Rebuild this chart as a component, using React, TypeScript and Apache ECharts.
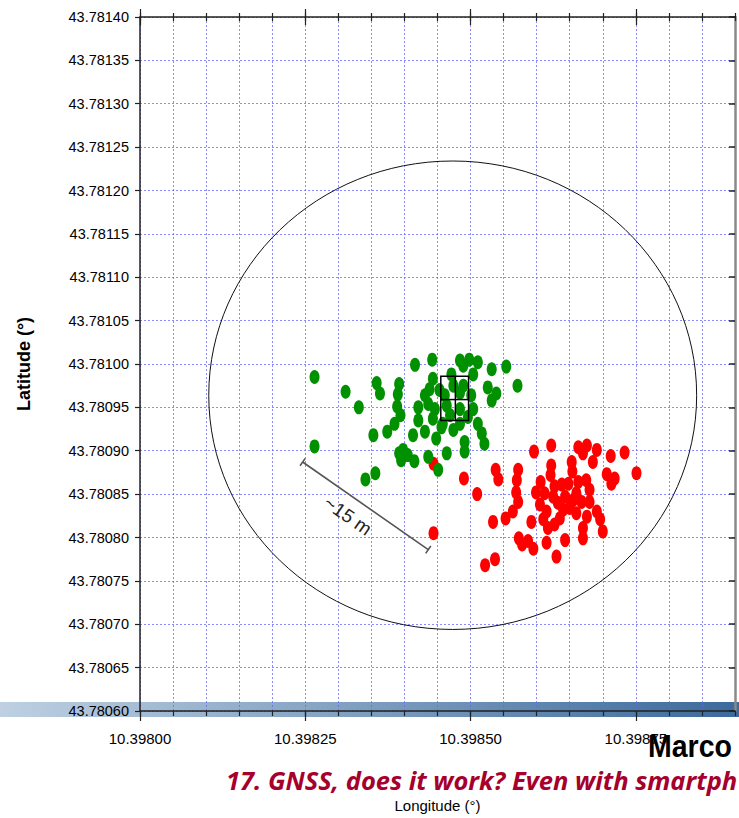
import React, { useEffect, useRef } from "react";
import * as echarts from "echarts";

// Axis extents (degrees)
const lonMin = 10.398;
const lonMax = 10.3989;
const latMin = 43.7806;
const latMax = 43.7814;
const gridStep = 0.00005;
const majorStep = 0.00025;
const majorLonTicks = [10.398, 10.39825, 10.3985, 10.39875];

// Green fixes
const greenLon = [
  10.398264, 10.398311, 10.398331, 10.398358, 10.398363, 10.398392, 10.39839, 10.398389, 10.398394, 10.398385,
  10.398374, 10.398353, 10.398264, 10.398416, 10.398421, 10.398421, 10.398413, 10.398392, 10.398398, 10.398405,
  10.398415, 10.398395, 10.398356, 10.398341, 10.398442, 10.398484, 10.398498, 10.398489, 10.398511, 10.398504,
  10.398532, 10.398554, 10.398571, 10.398526, 10.398539, 10.398532, 10.398443, 10.398471, 10.398474, 10.398489,
  10.398501, 10.398431, 10.398436, 10.398446, 10.398464, 10.398484, 10.398504, 10.398443, 10.398458, 10.398484,
  10.398511, 10.398469, 10.398431, 10.398448, 10.398517, 10.398521, 10.398491, 10.398491, 10.398464, 10.398436,
  10.398451, 10.398456, 10.398474, 10.398484, 10.398461, 10.398453, 10.398496, 10.398438,
];
const greenLat = [
  43.780985, 43.780968, 43.78095, 43.780978, 43.780966, 43.780977, 43.780965, 43.780951, 43.780941, 43.780931,
  43.780922, 43.780918, 43.780905, 43.780999, 43.78095, 43.780935, 43.780918, 43.780897, 43.780901, 43.780895,
  43.780888, 43.780889, 43.780874, 43.780867, 43.781005, 43.781004, 43.781005, 43.780998, 43.781002, 43.780988,
  43.780994, 43.780997, 43.780975, 43.780973, 43.780966, 43.780958, 43.780983, 43.780988, 43.780975, 43.780975,
  43.780964, 43.780964, 43.780954, 43.780948, 43.780952, 43.780948, 43.780948, 43.780937, 43.780931, 43.780931,
  43.780931, 43.780941, 43.780922, 43.780914, 43.78092, 43.780908, 43.78091, 43.780899, 43.780897, 43.780893,
  43.780878, 43.780927, 43.780924, 43.780967, 43.780964, 43.78097, 43.780939, 43.780971,
];

// Red fixes
const redLon = [
  10.398444, 10.39849, 10.39851, 10.398538, 10.398542, 10.398572, 10.39857, 10.398569, 10.398572, 10.398564,
  10.398553, 10.398534, 10.398596, 10.398592, 10.398573, 10.398578, 10.398587, 10.398595, 10.398444, 10.398522,
  10.398537, 10.398622, 10.398663, 10.398676, 10.39867, 10.398691, 10.398685, 10.398712, 10.398733, 10.398751,
  10.398706, 10.398713, 10.398718, 10.398653, 10.398654, 10.398622, 10.398621, 10.398606, 10.398599, 10.398612,
  10.398627, 10.398638, 10.398648, 10.398663, 10.398675, 10.39868, 10.39866, 10.398655, 10.398668, 10.398625,
  10.398632, 10.39864, 10.398605, 10.398615, 10.39861, 10.39865, 10.39866, 10.398691, 10.398696, 10.3987,
  10.39867, 10.39867, 10.398627, 10.398615, 10.398643, 10.39863, 10.398643, 10.39868, 10.398635, 10.398617,
  10.398676,
];
const redLat = [
  43.780885, 43.780868, 43.78085, 43.780878, 43.780867, 43.780878, 43.780866, 43.780852, 43.780841, 43.78083,
  43.780822, 43.780818, 43.780899, 43.780818, 43.780799, 43.780792, 43.780796, 43.780787, 43.780805, 43.780768,
  43.780775, 43.780906, 43.780904, 43.780906, 43.780897, 43.780901, 43.780887, 43.780894, 43.780898, 43.780874,
  43.780873, 43.780862, 43.780868, 43.780887, 43.780876, 43.780883, 43.780872, 43.780864, 43.780852, 43.780851,
  43.780859, 43.780861, 43.780862, 43.780864, 43.780866, 43.780855, 43.780851, 43.780843, 43.780841, 43.780847,
  43.78084, 43.780832, 43.780838, 43.78083, 43.780821, 43.780834, 43.780828, 43.78083, 43.780821, 43.780807,
  43.780811, 43.780799, 43.780815, 43.780794, 43.780797, 43.780778, 43.780847, 43.780841, 43.780822, 43.780811,
  43.780824,
];

// Confidence circle (center lon/lat, radius lon/lat)
const circleCenter = [10.398473, 43.780964];
const circleRadius = [0.000369, 0.00027];

// Reference box with crosshair
const boxLon = [10.398455, 10.398497];
const boxLat = [43.780935, 43.780986];
const crossPoint = [10.398477, 43.780959];

// Scale bar
const scaleStart = [10.398246, 43.780887];
const scaleEnd = [10.398436, 43.780786];
const scaleLabel = "~15 m";

const tickFont = "'Liberation Sans', Arial, sans-serif";

const isMajor = (v: number) => Math.abs(Math.round(v / majorStep) * majorStep - v) < 1e-9;

export default function App() {
  const ref = useRef<HTMLDivElement>(null);

  useEffect(() => {
    if (!ref.current) return;
    const chart = echarts.init(ref.current, null, { renderer: "svg" });

    const gridLine = {
      show: true,
      lineStyle: { color: "rgba(100,100,255,0.75)", type: [2, 2] as any, width: 1 },
    };
    const axisDark = { color: "#222", width: 1.5 };

    const greenData = greenLon.map((v, i) => [v, greenLat[i]]);
    const redData = redLon.map((v, i) => [v, redLat[i]]);

    const hiddenAxisBase = {
      type: "value" as const,
      min: lonMin,
      max: lonMax,
      axisLabel: { show: false },
      splitLine: { show: false },
    };

    const option: any = {
      animation: false,
      grid: { left: 140, top: 17, width: 595, height: 699, containLabel: false },
      xAxis: [
        {
          type: "value",
          min: lonMin,
          max: lonMax,
          interval: gridStep,
          position: "bottom",
          axisLine: { show: true, onZero: false, lineStyle: axisDark },
          axisTick: { show: true, inside: false, length: 5, lineStyle: { color: "#222", width: 1.2 } },
          axisLabel: {
            show: true,
            margin: 20,
            fontSize: 15,
            fontFamily: tickFont,
            color: "#000",
            hideOverlap: false,
            formatter: (v: number) => (isMajor(v) ? v.toFixed(5) : ""),
          },
          splitLine: gridLine,
          name: "Longitude (°)",
          nameLocation: "middle",
          nameGap: 87,
          nameTextStyle: { fontSize: 15, fontFamily: tickFont, color: "#000", verticalAlign: "top", lineHeight: 15 },
        },
        {
          ...hiddenAxisBase,
          position: "bottom",
          axisLine: { show: false },
          axisTick: { show: true, inside: false, length: 10, customValues: majorLonTicks, lineStyle: { color: "#222", width: 1.2 } },
        },
        {
          ...hiddenAxisBase,
          interval: gridStep,
          position: "top",
          axisLine: { show: true, onZero: false, lineStyle: axisDark },
          axisTick: { show: true, inside: false, length: 4, lineStyle: { color: "#222", width: 1.2 } },
        },
        {
          ...hiddenAxisBase,
          interval: gridStep,
          position: "top",
          axisLine: { show: false },
          axisTick: { show: true, inside: true, length: 4, lineStyle: { color: "#222", width: 1.2 } },
        },
        {
          ...hiddenAxisBase,
          position: "top",
          axisLine: { show: false },
          axisTick: { show: true, inside: false, length: 8, customValues: majorLonTicks, lineStyle: { color: "#222", width: 1.2 } },
        },
        {
          ...hiddenAxisBase,
          position: "top",
          axisLine: { show: false },
          axisTick: { show: true, inside: true, length: 8, customValues: majorLonTicks, lineStyle: { color: "#222", width: 1.2 } },
        },
      ],
      yAxis: [
        {
          type: "value",
          min: latMin,
          max: latMax,
          interval: gridStep,
          position: "left",
          axisLine: { show: true, onZero: false, lineStyle: axisDark },
          axisTick: { show: true, inside: false, length: 5, lineStyle: { color: "#222", width: 1.2 } },
          axisLabel: {
            show: true,
            margin: 11,
            fontSize: 14.5,
            fontFamily: tickFont,
            color: "#000",
            formatter: (v: number) => v.toFixed(5),
          },
          splitLine: gridLine,
          name: "Latitude (°)",
          nameLocation: "middle",
          nameGap: 107,
          nameTextStyle: { fontSize: 18, fontWeight: "bold", fontFamily: tickFont, color: "#000" },
        },
        {
          type: "value",
          min: latMin,
          max: latMax,
          interval: gridStep,
          position: "right",
          axisLine: { show: true, onZero: false, lineStyle: { color: "#8a8a8a", width: 2.5 } },
          axisTick: { show: true, inside: true, length: 6, lineStyle: { color: "#222", width: 1.5 } },
          axisLabel: { show: false },
          splitLine: { show: false },
        },
      ],
      graphic: [
        {
          type: "rect",
          silent: true,
          z: -10,
          shape: { x: 0, y: 702, width: 739, height: 15 },
          style: {
            fill: new echarts.graphic.LinearGradient(0, 0, 1, 0, [
              { offset: 0, color: "#bed0e2" },
              { offset: 1, color: "#3c6a9c" },
            ]),
          },
        },
        {
          type: "text",
          z: 100,
          x: 648,
          y: 746,
          scaleX: 0.92,
          style: {
            text: "Marco",
            fontSize: 31,
            fontWeight: "bold",
            fontFamily: tickFont,
            fill: "#000",
            verticalAlign: "middle",
          },
        },
        {
          type: "text",
          z: 100,
          x: 226,
          y: 780,
          style: {
            text: "17. GNSS, does it work? Even with smartph",
            fontSize: 25.5,
            lineHeight: 26,
            fontWeight: "bold",
            fontStyle: "italic",
            fontFamily: "'Open Sans', sans-serif",
            fill: "#a6002c",
            verticalAlign: "middle",
          },
        },
      ],
      series: [
        {
          type: "scatter",
          name: "red",
          data: redData,
          symbol: "circle",
          symbolSize: [10, 14],
          itemStyle: { color: "#ff0000", opacity: 1 },
          z: 3,
        },
        {
          type: "scatter",
          name: "green",
          data: greenData,
          symbol: "circle",
          symbolSize: [10, 14],
          itemStyle: { color: "#009000", opacity: 1 },
          z: 4,
        },
        {
          type: "custom",
          name: "circle",
          z: 2,
          silent: true,
          data: [[circleCenter[0], circleCenter[1], circleRadius[0], circleRadius[1]]],
          renderItem: (params: any, api: any) => {
            const c = api.coord([api.value(0), api.value(1)]);
            const e = api.coord([api.value(0) + api.value(2), api.value(1) + api.value(3)]);
            return {
              type: "ellipse",
              shape: { cx: c[0], cy: c[1], rx: Math.abs(e[0] - c[0]), ry: Math.abs(c[1] - e[1]) },
              style: { fill: "none", stroke: "#111", lineWidth: 1 },
            };
          },
        },
        {
          type: "custom",
          name: "box",
          z: 6,
          silent: true,
          data: [[boxLon[0], boxLat[0], boxLon[1], boxLat[1], crossPoint[0], crossPoint[1]]],
          renderItem: (params: any, api: any) => {
            const a = api.coord([api.value(0), api.value(1)]);
            const b = api.coord([api.value(2), api.value(3)]);
            const c = api.coord([api.value(4), api.value(5)]);
            const style = { stroke: "#000", lineWidth: 1.5, fill: "none" };
            return {
              type: "group",
              children: [
                {
                  type: "rect",
                  shape: { x: a[0], y: b[1], width: b[0] - a[0], height: a[1] - b[1] },
                  style,
                },
                { type: "line", shape: { x1: c[0], y1: b[1], x2: c[0], y2: a[1] }, style },
                { type: "line", shape: { x1: a[0], y1: c[1], x2: b[0], y2: c[1] }, style },
              ],
            };
          },
        },
        {
          type: "custom",
          name: "scale",
          z: 5,
          silent: true,
          data: [[scaleStart[0], scaleStart[1], scaleEnd[0], scaleEnd[1]]],
          renderItem: (params: any, api: any) => {
            const p = api.coord([api.value(0), api.value(1)]);
            const q = api.coord([api.value(2), api.value(3)]);
            const dx = q[0] - p[0];
            const dy = q[1] - p[1];
            const len = Math.sqrt(dx * dx + dy * dy);
            const nx = -dy / len;
            const ny = dx / len;
            const cap = 4.5;
            const ang = Math.atan2(dy, dx);
            const style = { stroke: "#555", lineWidth: 1.6 };
            const mx = (p[0] + q[0]) / 2;
            const my = (p[1] + q[1]) / 2;
            return {
              type: "group",
              children: [
                { type: "line", shape: { x1: p[0], y1: p[1], x2: q[0], y2: q[1] }, style },
                { type: "line", shape: { x1: p[0] - nx * cap, y1: p[1] - ny * cap, x2: p[0] + nx * cap, y2: p[1] + ny * cap }, style },
                { type: "line", shape: { x1: q[0] - nx * cap, y1: q[1] - ny * cap, x2: q[0] + nx * cap, y2: q[1] + ny * cap }, style },
                {
                  type: "text",
                  x: mx - 8 + nx * 17,
                  y: my - 4 + ny * 17,
                  rotation: -ang,
                  style: {
                    text: scaleLabel,
                    fontSize: 19,
                    fontFamily: tickFont,
                    fill: "#222",
                    align: "center",
                    verticalAlign: "middle",
                  },
                },
              ],
            };
          },
        },
      ],
    };

    chart.setOption(option);
    return () => chart.dispose();
  }, []);

  return (
    <div
      ref={ref}
      style={{ position: "absolute", left: 0, top: 0, width: 739, height: 818, background: "#fff" }}
    />
  );
}
